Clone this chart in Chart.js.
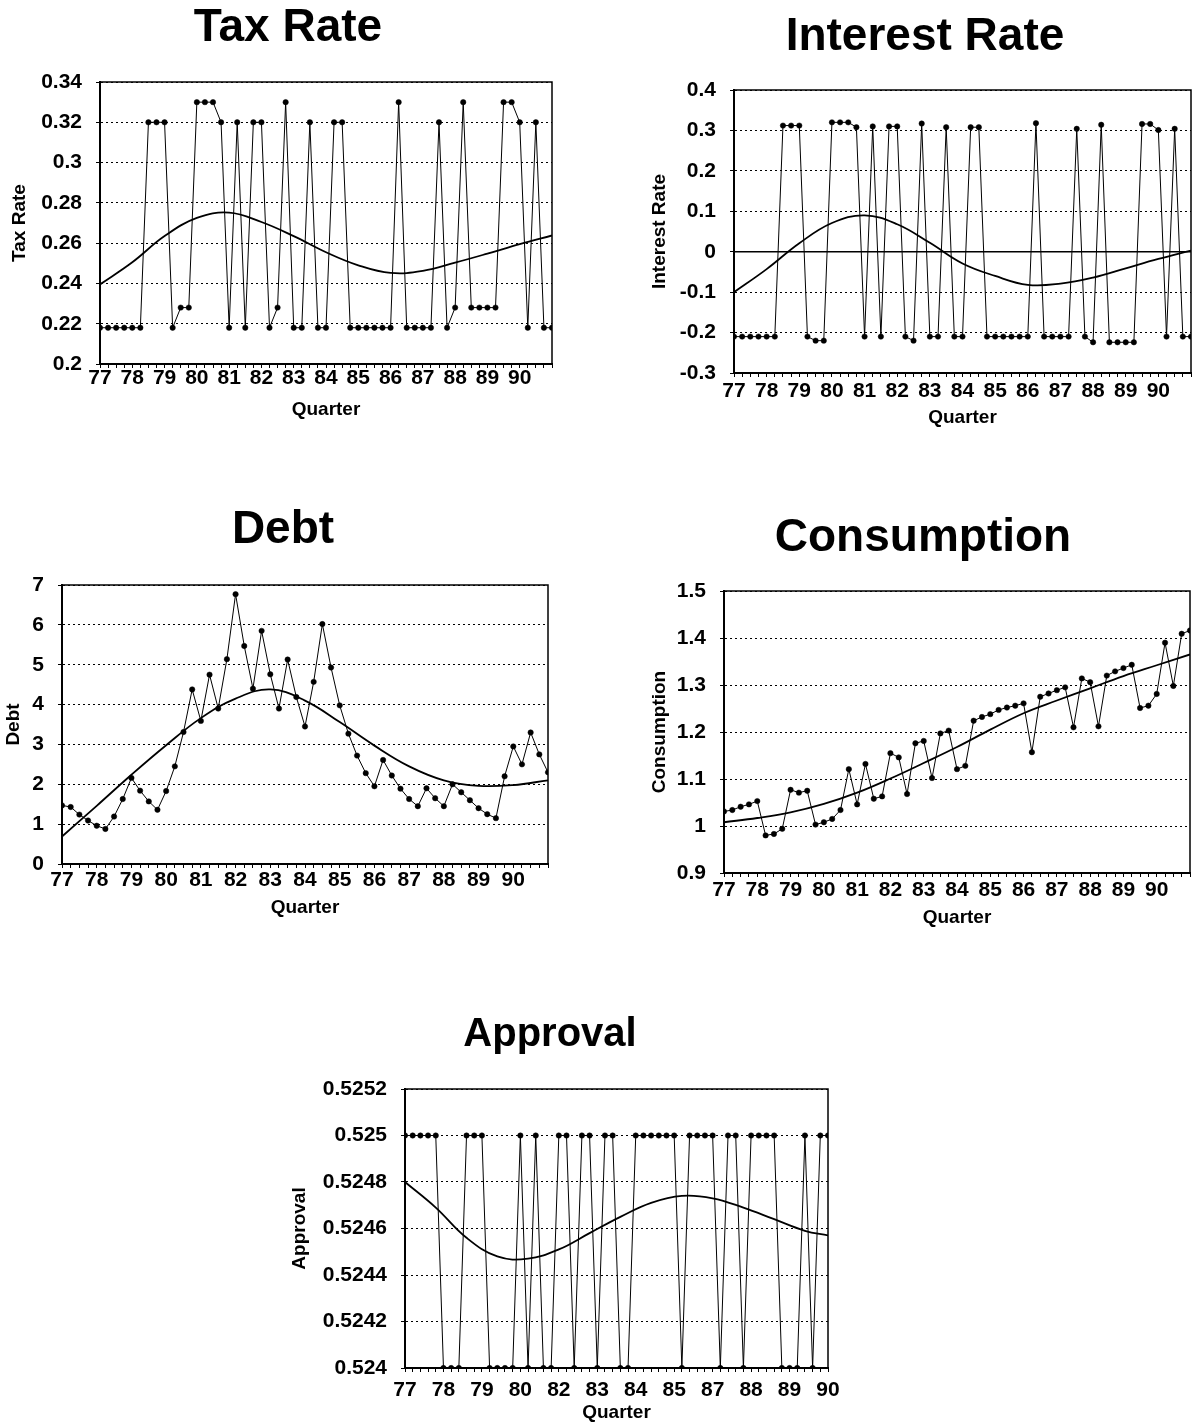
<!DOCTYPE html>
<html>
<head>
<meta charset="utf-8">
<script src="https://cdn.jsdelivr.net/npm/chart.js@4.4.1/dist/chart.umd.min.js"></script>
<style>
  html, body { margin: 0; padding: 0; background: #fff; }
  body { width: 1194px; height: 1427px; position: relative; overflow: hidden; }
  canvas { position: absolute; }
</style>
</head>
<body>
<canvas id="taxChart"></canvas>
<canvas id="interestChart"></canvas>
<canvas id="debtChart"></canvas>
<canvas id="consumptionChart"></canvas>
<canvas id="approvalChart"></canvas>
<script>
// ---- data (one value per quarter, 77Q1 onward) ----
const yearLabels = ['77', '78', '79', '80', '81', '82', '83', '84', '85', '86', '87', '88', '89', '90'];
const approvalTickLabels = ['77', '78', '79', '80', '82', '83', '84', '85', '87', '88', '89', '90'];

const taxRate = [0.218, 0.218, 0.218, 0.218, 0.218, 0.218, 0.32, 0.32, 0.32, 0.218,
  0.228, 0.228, 0.33, 0.33, 0.33, 0.32, 0.218, 0.32, 0.218, 0.32,
  0.32, 0.218, 0.228, 0.33, 0.218, 0.218, 0.32, 0.218, 0.218, 0.32,
  0.32, 0.218, 0.218, 0.218, 0.218, 0.218, 0.218, 0.33, 0.218, 0.218,
  0.218, 0.218, 0.32, 0.218, 0.228, 0.33, 0.228, 0.228, 0.228, 0.228,
  0.33, 0.33, 0.32, 0.218, 0.32, 0.218, 0.218];

const interestRate = [-0.21, -0.21, -0.21, -0.21, -0.21, -0.21, 0.312, 0.312, 0.312, -0.21,
  -0.22, -0.22, 0.32, 0.32, 0.32, 0.308, -0.21, 0.31, -0.21, 0.31,
  0.31, -0.21, -0.22, 0.317, -0.21, -0.21, 0.308, -0.21, -0.21, 0.308,
  0.308, -0.21, -0.21, -0.21, -0.21, -0.21, -0.21, 0.318, -0.21, -0.21,
  -0.21, -0.21, 0.304, -0.21, -0.224, 0.314, -0.224, -0.224, -0.224, -0.224,
  0.316, 0.316, 0.301, -0.21, 0.304, -0.21, -0.21];

const debt = [1.47, 1.43, 1.24, 1.09, 0.96, 0.88, 1.19, 1.63, 2.16, 1.84,
  1.57, 1.36, 1.83, 2.45, 3.31, 4.38, 3.59, 4.75, 3.9, 5.14,
  6.77, 5.47, 4.4, 5.85, 4.76, 3.9, 5.13, 4.19, 3.45, 4.57,
  6.02, 4.93, 3.98, 3.27, 2.72, 2.28, 1.95, 2.61, 2.22, 1.89,
  1.63, 1.45, 1.9, 1.65, 1.45, 2.0, 1.8, 1.6, 1.4, 1.25,
  1.15, 2.2, 2.95, 2.5, 3.3, 2.75, 2.3];

const consumption = [1.031, 1.034, 1.041, 1.046, 1.053, 0.98, 0.983, 0.994, 1.077, 1.071,
  1.075, 1.003, 1.008, 1.015, 1.034, 1.121, 1.046, 1.132, 1.058, 1.063,
  1.155, 1.146, 1.068, 1.176, 1.181, 1.102, 1.197, 1.203, 1.121, 1.128,
  1.224, 1.232, 1.238, 1.247, 1.252, 1.256, 1.261, 1.157, 1.275, 1.282,
  1.289, 1.295, 1.21, 1.314, 1.306, 1.212, 1.32, 1.329, 1.336, 1.343,
  1.251, 1.256, 1.281, 1.39, 1.298, 1.409, 1.416];

const approval = [0.525, 0.525, 0.525, 0.525, 0.525, 0.524, 0.524, 0.524, 0.525, 0.525,
  0.525, 0.524, 0.524, 0.524, 0.524, 0.525, 0.524, 0.525, 0.524, 0.524,
  0.525, 0.525, 0.524, 0.525, 0.525, 0.524, 0.525, 0.525, 0.524, 0.524,
  0.525, 0.525, 0.525, 0.525, 0.525, 0.525, 0.524, 0.525, 0.525, 0.525,
  0.525, 0.524, 0.525, 0.525, 0.524, 0.525, 0.525, 0.525, 0.525, 0.524,
  0.524, 0.524, 0.525, 0.524, 0.525, 0.525];

// fitted trend curves, read once a year
const trendQuarters = [0, 4, 8, 12, 16, 20, 24, 28, 32, 36, 40, 44, 48, 52, 56];
const approvalTrendQuarters = [0, 4, 8, 12, 16, 20, 24, 28, 32, 36, 40, 44, 48, 52, 55];
const taxTrend = [0.2395, 0.2505, 0.2635, 0.2725, 0.2752, 0.2705, 0.2635, 0.2555, 0.249, 0.2452, 0.2462, 0.2503, 0.2548, 0.2595, 0.2638];
const interestTrend = [-0.10, -0.043, 0.021, 0.071, 0.09, 0.068, 0.022, -0.029, -0.06, -0.082, -0.079, -0.064, -0.041, -0.018, 0.003];
const debtTrend = [0.69, 1.46, 2.24, 2.98, 3.66, 4.15, 4.38, 4.1, 3.56, 2.97, 2.45, 2.1, 1.96, 1.98, 2.1];
const consumptionTrend = [1.008, 1.017, 1.029, 1.047, 1.071, 1.101, 1.134, 1.168, 1.205, 1.24, 1.267, 1.293, 1.319, 1.342, 1.365];
const approvalTrend = [0.5248, 0.52469, 0.52456, 0.52448, 0.52447, 0.52451, 0.52458, 0.52465, 0.52471, 0.52474, 0.52473, 0.52469, 0.52464, 0.52459, 0.52457];

// ---- drawing ----
Chart.defaults.font.family = "'Liberation Sans', Arial, sans-serif";
Chart.defaults.color = '#000';

const framePlugin = {
  id: 'frame',
  afterDraw(chart, args, opts) {
    const { ctx, chartArea: a } = chart;
    ctx.save();
    ctx.strokeStyle = '#000';
    if (opts.zeroLine) {
      const y0 = chart.scales.y.getPixelForValue(0);
      ctx.lineWidth = 1.6;
      ctx.beginPath();
      ctx.moveTo(a.left, y0);
      ctx.lineTo(a.right, y0);
      ctx.stroke();
    }
    ctx.lineWidth = 1.5;
    ctx.strokeRect(a.left, a.top, a.right - a.left, a.bottom - a.top);
    ctx.restore();
  }
};

function isMajor(v, step) {
  const r = v / step;
  return Math.abs(r - Math.round(r)) < 1e-6;
}

function fmt(v) {
  return String(parseFloat(v.toFixed(5)));
}

function drawPanel(id, p) {
  const b = p.box;
  const titleSize = p.titleSize || 46;
  // title is centred on the layout box, so the box is chosen around its centre
  const layoutLeft = Math.min(b.yTitleX - 13, 2 * b.titleX - b.right - 22);
  const layoutRight = 2 * b.titleX - layoutLeft;
  const top = b.titleY - titleSize / 2;
  const height = Math.round(b.quarterY + 11.4 - top);
  const width = layoutRight - layoutLeft;

  const canvas = document.getElementById(id);
  canvas.width = width;
  canvas.height = height;
  canvas.style.left = layoutLeft + 'px';
  canvas.style.top = top + 'px';

  const n = p.values.length;
  const yStep = p.yStep;

  new Chart(canvas.getContext('2d'), {
    type: 'line',
    data: {
      datasets: [{
        data: p.values.map((v, i) => ({ x: i, y: v })),
        borderColor: '#000',
        borderWidth: 1,
        pointRadius: 2.7,
        pointBackgroundColor: '#000',
        pointBorderColor: '#000',
        pointBorderWidth: 0.5,
        tension: 0
      }, {
        data: p.trendX.map((x, k) => ({ x: x, y: p.trend[k] })),
        borderColor: '#000',
        borderWidth: 1.8,
        pointRadius: 0,
        tension: 0.4
      }]
    },
    plugins: [framePlugin],
    options: {
      responsive: false,
      animation: false,
      layout: { padding: 0 },
      plugins: {
        legend: { display: false },
        tooltip: { enabled: false },
        frame: { zeroLine: !!p.zeroLine },
        title: {
          display: true,
          text: p.title,
          color: '#000',
          font: { size: titleSize, weight: 'bold', lineHeight: 1 },
          padding: { top: 0, bottom: b.top - top - titleSize }
        }
      },
      scales: {
        x: {
          type: 'linear',
          min: 0,
          max: n - 1,
          afterFit(scale) { scale.height = top + height - b.bottom; },
          ticks: {
            stepSize: 1,
            autoSkip: false,
            maxRotation: 0,
            padding: Math.max(0, b.xLabelY - b.bottom - 14.5),
            font: { size: 21, weight: 'bold', lineHeight: 1 },
            callback: (v) => (Number.isInteger(v) && v % p.labelEvery === 0) ? (p.xLabels[v / p.labelEvery] || '') : ''
          },
          grid: { drawOnChartArea: false, tickLength: 4, color: '#000', lineWidth: 1 },
          border: { color: '#000', width: 2 },
          title: {
            display: true,
            text: 'Quarter',
            color: '#000',
            font: { size: 19, weight: 'bold' },
            padding: { top: 0, bottom: 0 }
          }
        },
        y: {
          min: p.yMin,
          max: p.yMax,
          afterFit(scale) { scale.width = b.left - layoutLeft; },
          ticks: {
            stepSize: yStep / 2,
            padding: 14,
            font: { size: 21, weight: 'bold' },
            callback: (v) => isMajor(v, yStep) ? fmt(v) : ''
          },
          grid: {
            color: (ctx) => (ctx.tick && isMajor(ctx.tick.value, yStep)) ? '#000' : 'rgba(0,0,0,0)',
            tickColor: '#000',
            tickLength: 4,
            tickBorderDash: [],
            lineWidth: 1
          },
          border: { color: '#000', width: 2, dash: [2, 3] },
          title: {
            display: true,
            text: p.yTitle,
            color: '#000',
            font: { size: 19, weight: 'bold' },
            padding: { top: b.yTitleX - layoutLeft - 11.4, bottom: 0 }
          }
        },
        yR: {
          position: 'right',
          display: true,
          afterFit(scale) { scale.width = layoutRight - b.right; },
          ticks: { display: false },
          grid: { display: false },
          border: { display: false }
        }
      }
    }
  });
}

drawPanel('taxChart', {
  title: 'Tax Rate', yTitle: 'Tax Rate',
  values: taxRate, trend: taxTrend, trendX: trendQuarters,
  yMin: 0.2, yMax: 0.34, yStep: 0.02,
  xLabels: yearLabels, labelEvery: 4,
  box: { yTitleX: 20, titleX: 288, titleY: 28, left: 100, right: 552, top: 82, bottom: 364, xLabelY: 378, quarterY: 410 }
});

drawPanel('interestChart', {
  title: 'Interest Rate', yTitle: 'Interest Rate',
  values: interestRate, trend: interestTrend, trendX: trendQuarters,
  yMin: -0.3, yMax: 0.4, yStep: 0.1, zeroLine: true,
  xLabels: yearLabels, labelEvery: 4,
  box: { yTitleX: 660, titleX: 925, titleY: 37, left: 734, right: 1191, top: 90, bottom: 373, xLabelY: 391, quarterY: 418 }
});

drawPanel('debtChart', {
  title: 'Debt', yTitle: 'Debt',
  values: debt, trend: debtTrend, trendX: trendQuarters,
  yMin: 0, yMax: 7, yStep: 1,
  xLabels: yearLabels, labelEvery: 4,
  box: { yTitleX: 14, titleX: 283, titleY: 530, left: 62, right: 548, top: 585, bottom: 864, xLabelY: 880, quarterY: 908 }
});

drawPanel('consumptionChart', {
  title: 'Consumption', yTitle: 'Consumption',
  values: consumption, trend: consumptionTrend, trendX: trendQuarters,
  yMin: 0.9, yMax: 1.5, yStep: 0.1,
  xLabels: yearLabels, labelEvery: 4,
  box: { yTitleX: 660, titleX: 923, titleY: 538, left: 724, right: 1190, top: 591, bottom: 873, xLabelY: 890, quarterY: 918 }
});

drawPanel('approvalChart', {
  title: 'Approval', yTitle: 'Approval', titleSize: 40,
  values: approval, trend: approvalTrend, trendX: approvalTrendQuarters,
  yMin: 0.524, yMax: 0.5252, yStep: 0.0002,
  xLabels: approvalTickLabels, labelEvery: 5,
  box: { yTitleX: 300, titleX: 550, titleY: 1035, left: 405, right: 828, top: 1089, bottom: 1368, xLabelY: 1390, quarterY: 1413 }
});
</script>
</body>
</html>
